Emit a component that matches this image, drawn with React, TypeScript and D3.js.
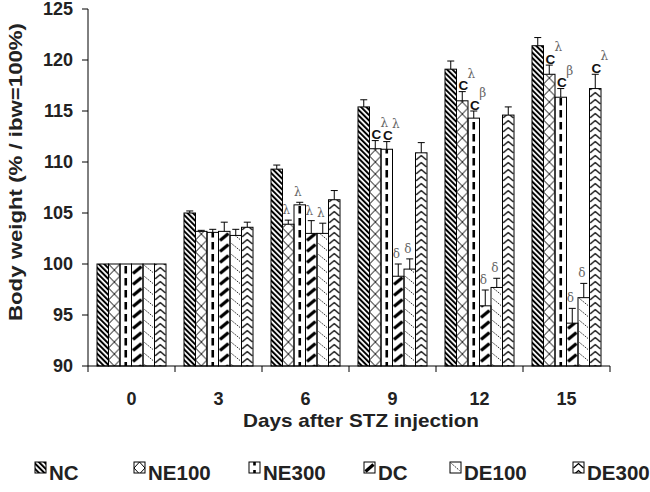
import React from "react";
import * as d3 from "d3";

const days = ["0", "3", "6", "9", "12", "15"];
const seriesNames = ["NC", "NE100", "NE300", "DC", "DE100", "DE300"];

const ncValues = [100, 105.0, 109.3, 115.4, 119.1, 121.4];
const ne100Values = [100, 103.2, 103.9, 111.3, 116.0, 118.6];
const ne300Values = [100, 103.1, 105.8, 111.25, 114.3, 116.35];
const dcValues = [100, 103.2, 103.0, 98.8, 95.9, 94.2];
const de100Values = [100, 102.8, 103.0, 99.5, 97.7, 96.7];
const de300Values = [100, 103.6, 106.3, 110.9, 114.6, 117.2];

const ncSem = [0, 0.2, 0.4, 0.7, 0.8, 0.8];
const ne100Sem = [0, 0.1, 0.4, 0.8, 0.9, 0.9];
const ne300Sem = [0, 0.3, 0.25, 0.75, 0.7, 0.85];
const dcSem = [0, 0.9, 1.25, 1.2, 1.55, 1.45];
const de100Sem = [0, 0.6, 1.0, 1.0, 0.9, 1.4];
const de300Sem = [0, 0.5, 0.9, 1.0, 0.8, 1.4];

const ncNotes = ["", "", "", "", "", ""];
const ne100Notes = ["", "", "λ", "Cλ", "Cλ", "Cλ"];
const ne300Notes = ["", "", "λ", "Cλ", "Cβ", "Cβ"];
const dcNotes = ["", "", "λ", "δ", "δ", "δ"];
const de100Notes = ["", "", "λ", "δ", "δ", "δ"];
const de300Notes = ["", "", "", "", "", "Cλ"];

const yTicks = [90, 95, 100, 105, 110, 115, 120, 125];

const valuesBySeries = [ncValues, ne100Values, ne300Values, dcValues, de100Values, de300Values];
const semBySeries = [ncSem, ne100Sem, ne300Sem, dcSem, de100Sem, de300Sem];
const notesBySeries = [ncNotes, ne100Notes, ne300Notes, dcNotes, de100Notes, de300Notes];

const FONT = "'Liberation Sans', Arial, Helvetica, sans-serif";
const SERIF = "'DejaVu Serif', 'Liberation Serif', serif";

function alignedPattern(id: string, s: string, x: number, tileW: number, bw: number) {
  let h = 12;
  let content: React.ReactNode = null;
  if (s === "NE100") {
    h = 12;
    content = (
      <g stroke="#000" strokeWidth={1}>
        <line x1={0} y1={0} x2={bw} y2={h} />
        <line x1={bw} y1={0} x2={0} y2={h} />
      </g>
    );
  } else if (s === "NE300") {
    h = 12;
    content = <rect x={bw / 2 - 1.3} y={2} width={2.6} height={7.5} fill="#000" />;
  } else if (s === "DC") {
    h = 11;
    content = <line x1={1.5} y1={9.5} x2={bw - 1.5} y2={2.5} stroke="#000" strokeWidth={3.2} />;
  } else if (s === "DE100") {
    h = 11;
    content = (
      <line x1={1.5} y1={1.5} x2={bw - 1.5} y2={8.5} stroke="#222" strokeWidth={1} strokeDasharray="1.4 1" />
    );
  } else if (s === "DE300") {
    h = 7;
    content = (
      <polyline points={`0.5,6 ${bw / 2},1.5 ${bw - 0.5},6`} fill="none" stroke="#000" strokeWidth={1.3} />
    );
  }
  return (
    <pattern key={id} id={id} patternUnits="userSpaceOnUse" x={x} y={0} width={tileW} height={h}>
      {content}
    </pattern>
  );
}

export default function App() {
  const x0 = d3.scaleBand<string>().domain(days).range([88, 610]);
  const x1 = d3.scaleBand<string>().domain(seriesNames).range([9, 78]);
  const y = d3.scaleLinear().domain([90, 125]).range([366, 9]);
  const bw = x1.bandwidth();
  const step = x0.step();

  const legendSwatchX = [35, 134, 249, 364, 450, 573];
  const swatch = 11;
  const legendY = 462;

  const fillFor = (s: string, prefix: string) => (s === "NC" ? "url(#pat-NC)" : `url(#${prefix}-${s})`);

  return (
    <svg width={650} height={492} style={{ position: "absolute", left: 0, top: 0, background: "#fff" }}>
      <defs>
        <pattern id="pat-NC" patternUnits="userSpaceOnUse" width={3.8} height={3.8} patternTransform="rotate(-45)">
          <rect x={0} y={0} width={2} height={3.8} fill="#000" />
        </pattern>
        {seriesNames
          .filter((s) => s !== "NC")
          .map((s) => alignedPattern(`bar-${s}`, s, (x0(days[0]) as number) + (x1(s) as number), step, bw))}
        {seriesNames
          .filter((s) => s !== "NC")
          .map((s, i) => alignedPattern(`leg-${s}`, s, legendSwatchX[i + 1], 200, swatch))}
      </defs>

      {/* bars */}
      {seriesNames.map((s, si) =>
        days.map((d, di) => {
          const v = valuesBySeries[si][di];
          const bx = (x0(d) as number) + (x1(s) as number);
          return (
            <rect
              key={`b-${s}-${d}`}
              x={bx}
              y={y(v)}
              width={bw}
              height={y(90) - y(v)}
              fill={fillFor(s, "bar")}
              stroke="#000"
              strokeWidth={1}
            />
          );
        })
      )}

      {/* error bars */}
      {seriesNames.map((s, si) =>
        days.map((d, di) => {
          const v = valuesBySeries[si][di];
          const e = semBySeries[si][di];
          if (e <= 0) return null;
          const cx = (x0(d) as number) + (x1(s) as number) + bw / 2;
          return (
            <g key={`e-${s}-${d}`} stroke="#000" strokeWidth={1}>
              <line x1={cx} x2={cx} y1={y(v)} y2={y(v + e)} />
              <line x1={cx - 3.5} x2={cx + 3.5} y1={y(v + e)} y2={y(v + e)} />
            </g>
          );
        })
      )}

      {/* annotations */}
      {seriesNames.map((s, si) =>
        days.map((d, di) => {
          const note = notesBySeries[si][di];
          if (!note) return null;
          const v = valuesBySeries[si][di];
          const e = semBySeries[si][di];
          const top = y(v + e);
          const cx = (x0(d) as number) + (x1(s) as number) + bw / 2;
          if (note.startsWith("C")) {
            const greek = note.slice(1);
            return (
              <g key={`n-${s}-${d}`}>
                <text x={cx + 1} y={top - 1.5} textAnchor="middle" fontFamily={FONT} fontWeight="bold" fontSize={13.5} fill="#111">
                  C
                </text>
                <text x={cx + 9} y={top - 14} textAnchor="middle" fontFamily={SERIF} fontSize={12} fill="#666">
                  {greek}
                </text>
              </g>
            );
          }
          return (
            <text key={`n-${s}-${d}`} x={cx - 2} y={top - 6} textAnchor="middle" fontFamily={SERIF} fontSize={12} fill="#666">
              {note}
            </text>
          );
        })
      )}

      {/* y axis */}
      <line x1={88} x2={88} y1={y(125)} y2={y(90)} stroke="#000" strokeWidth={1} />
      {yTicks.map((t) => (
        <g key={`yt-${t}`}>
          <line x1={82} x2={88} y1={y(t)} y2={y(t)} stroke="#000" strokeWidth={1} />
          <text x={73} y={y(t)} dy="0.36em" textAnchor="end" fontFamily={FONT} fontWeight="bold" fontSize={18} fill="#222">
            {t}
          </text>
        </g>
      ))}

      {/* x axis */}
      <line x1={88} x2={610} y1={y(90)} y2={y(90)} stroke="#000" strokeWidth={1} />
      {days.map((d) => (
        <line key={`xt-${d}`} x1={x0(d) as number} x2={x0(d) as number} y1={y(90)} y2={y(90) + 6} stroke="#000" strokeWidth={1} />
      ))}
      <line x1={610} x2={610} y1={y(90)} y2={y(90) + 6} stroke="#000" strokeWidth={1} />
      {days.map((d) => (
        <text
          key={`xl-${d}`}
          x={(x0(d) as number) + step / 2}
          y={405}
          textAnchor="middle"
          fontFamily={FONT}
          fontWeight="bold"
          fontSize={18}
          fill="#222"
        >
          {d}
        </text>
      ))}

      <text
        x={361}
        y={427}
        textAnchor="middle"
        fontFamily={FONT}
        fontWeight="bold"
        fontSize={19}
        fill="#222"
        textLength={236}
        lengthAdjust="spacingAndGlyphs"
      >
        Days after STZ injection
      </text>
      <text
        transform={`translate(22,${172}) rotate(-90)`}
        textAnchor="middle"
        fontFamily={FONT}
        fontWeight="bold"
        fontSize={19}
        fill="#222"
        textLength={298}
        lengthAdjust="spacingAndGlyphs"
      >
        Body weight (% / ibw=100%)
      </text>

      {/* legend */}
      {seriesNames.map((s, i) => (
        <g key={`lg-${s}`}>
          <rect
            x={legendSwatchX[i]}
            y={legendY}
            width={swatch}
            height={swatch}
            fill={fillFor(s, "leg")}
            stroke="#000"
            strokeWidth={1}
          />
          <text x={legendSwatchX[i] + 14} y={480} fontFamily={FONT} fontWeight="bold" fontSize={20.5} fill="#222">
            {s}
          </text>
        </g>
      ))}
    </svg>
  );
}
